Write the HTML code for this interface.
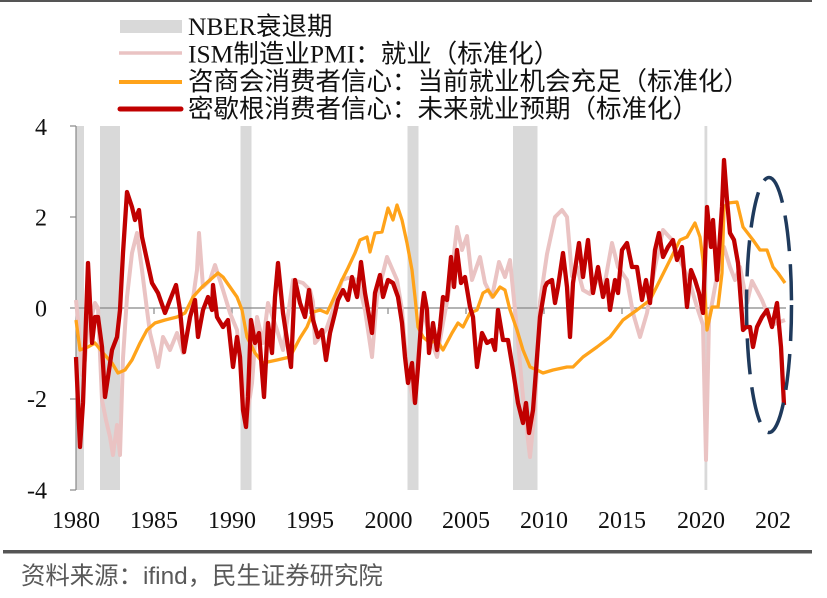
<!DOCTYPE html>
<html><head><meta charset="utf-8"><style>
html,body{margin:0;padding:0;background:#fff;}
svg{display:block;}
</style></head><body>
<svg width="827" height="598" viewBox="0 0 827 598" xmlns="http://www.w3.org/2000/svg">
<rect x="0" y="0" width="827" height="598" fill="#fff"/>
<!-- top border -->
<rect x="0" y="0" width="812" height="2" fill="#555"/>
<!-- legend -->
<rect x="120" y="20" width="62" height="13" fill="#d9d9d9"/>
<line x1="119" y1="53" x2="182" y2="53" stroke="#eac3c3" stroke-width="3.5"/>
<line x1="119" y1="82" x2="182" y2="82" stroke="#ffa31a" stroke-width="4"/>
<line x1="120" y1="109" x2="181" y2="109" stroke="#c00000" stroke-width="5" stroke-linecap="round"/>
<g font-family="'Liberation Serif','Noto Sans CJK SC',serif" font-size="25.5" fill="#111">
<text x="188" y="35">NBER衰退期</text>
<text x="188" y="62.5">ISM制造业PMI：就业（标准化）</text>
<text x="188" y="90">咨商会消费者信心：当前就业机会充足（标准化）</text>
<text x="188" y="117.5">密歇根消费者信心：未来就业预期（标准化）</text>
</g>
<!-- recession bars -->
<g fill="#d9d9d9">
<rect x="76" y="126" width="8" height="364"/>
<rect x="100" y="126" width="20" height="364"/>
<rect x="240.5" y="126" width="11" height="364"/>
<rect x="407.5" y="126" width="11" height="364"/>
<rect x="513" y="126" width="24.5" height="364"/>
<rect x="704.5" y="126" width="2.8" height="364"/>
</g>
<!-- axes -->
<g stroke="#888" stroke-width="1.2">
<line x1="76" y1="126" x2="76" y2="490"/>
<line x1="70" y1="126" x2="76" y2="126"/>
<line x1="70" y1="217" x2="76" y2="217"/>
<line x1="70" y1="308" x2="76" y2="308"/>
<line x1="70" y1="399" x2="76" y2="399"/>
<line x1="70" y1="490" x2="76" y2="490"/>
<line x1="76" y1="308" x2="786" y2="308"/>
<line x1="154" y1="308" x2="154" y2="314"/>
<line x1="232" y1="308" x2="232" y2="314"/>
<line x1="310" y1="308" x2="310" y2="314"/>
<line x1="388" y1="308" x2="388" y2="314"/>
<line x1="466" y1="308" x2="466" y2="314"/>
<line x1="544" y1="308" x2="544" y2="314"/>
<line x1="622" y1="308" x2="622" y2="314"/>
<line x1="700" y1="308" x2="700" y2="314"/>
<line x1="778" y1="308" x2="778" y2="314"/>
</g>
<!-- ISM pink -->
<polyline fill="none" stroke="#eac3c3" stroke-width="4" stroke-linejoin="round" points="76,300 79,330 82,375 85,360 88,320 92,315 95,303 98,308 102,400 106,420 110,437 113,455 117,425 120,455 123,358 127,297 132,253 137,233 142,270 147,310 150,333 155,353 158,367 163,337 170,350 177,333 183,353 190,320 197,270 199,233 203,287 210,280 215,265 223,290 230,313 237,330 243,387 247,417 252,383 257,317 263,343 268,303 277,330 283,350 293,280 303,283 310,290 313,302 315,343 326,330 333,310 342,280 348,278 358,280 365,310 372,357 377,297 387,257 397,280 402,310 407,370 413,400 418,357 423,310 430,337 437,357 443,323 451,280 457,227 462,250 467,236 472,280 480,257 485,283 492,297 499,262 505,277 510,260 517,330 523,397 530,457 535,407 540,302 547,254 555,217 562,210 567,217 572,276 577,267 583,290 590,294 597,276 603,293 612,243 618,267 627,280 633,313 640,337 647,313 655,267 663,230 672,240 680,260 689,280 697,307 703,325 706,460 709,320 717,276 724,247 730,267 735,280 740,267 747,303 752,281 762,300 772,325 785,320"/>
<!-- Conference Board orange -->
<polyline fill="none" stroke="#ffa31a" stroke-width="3.3" stroke-linejoin="round" points="76,320 80,350 88,347 95,343 103,353 112,363 118,373 125,370 132,360 140,343 147,330 155,323 165,320 177,317 185,313 193,297 202,287 210,280 218,273 223,277 230,287 237,297 242,310 247,337 255,353 263,363 277,360 290,357 300,338 307,327 313,312 320,310 327,313 333,300 342,280 348,268 355,253 360,240 367,237 370,252 375,233 382,232 388,208 393,220 397,205 402,220 407,243 412,270 415,297 418,327 423,337 430,343 437,340 443,350 452,333 458,323 463,327 470,313 477,310 483,293 488,290 493,297 500,287 505,290 510,310 517,330 523,350 530,367 537,370 543,373 553,370 567,367 573,367 583,357 597,347 610,337 623,320 637,310 650,300 660,280 670,260 680,240 687,237 695,223 700,237 703,260 707,330 712,307 718,307 722,273 724,207 728,203 737,202 743,227 753,240 760,250 767,250 773,267 778,273 785,283"/>
<!-- Michigan red -->
<polyline fill="none" stroke="#c00000" stroke-width="4.3" stroke-linejoin="round" points="76,357 80,447 83,403 88,263 92,343 95,317 98,317 102,347 105,397 108,377 112,350 117,337 120,310 123,253 127,192 132,207 135,220 139,210 142,237 147,260 152,283 158,293 165,313 170,300 176,285 180,310 184,352 190,317 195,300 198,337 203,310 208,297 212,310 213,285 217,317 223,327 228,320 233,367 237,337 240,357 243,410 246,427 248,397 251,320 255,343 259,333 264,397 268,323 272,353 275,297 278,263 283,313 287,340 291,367 295,280 300,303 305,317 309,290 313,320 318,337 322,330 326,360 330,333 335,313 338,300 343,290 348,300 352,277 357,297 361,262 365,293 368,310 372,333 375,293 380,275 383,297 388,280 393,283 398,297 402,323 405,357 408,383 412,363 415,403 418,367 422,310 424,293 427,310 429,353 433,323 437,350 440,327 443,297 447,300 451,257 454,287 457,250 461,283 465,277 470,307 473,317 477,367 482,333 487,343 492,340 495,350 498,310 503,340 508,340 513,370 518,403 523,423 526,403 529,433 533,410 537,357 540,317 545,287 547,283 552,280 555,303 558,287 563,253 567,287 570,337 573,283 579,243 583,277 588,240 593,293 598,267 603,297 607,280 610,310 615,280 618,293 622,250 627,243 632,267 637,267 642,300 646,280 650,303 655,250 659,233 663,257 668,247 673,240 677,260 682,247 687,307 691,270 695,280 699,293 703,313 707,207 711,247 713,220 717,280 722,207 724,160 727,200 730,233 734,240 738,263 743,330 746,327 750,327 753,347 757,327 762,317 767,310 772,327 777,303 781,347 784,405"/>
<!-- dashed ellipse -->
<ellipse cx="769" cy="305" rx="22.5" ry="127.5" fill="none" stroke="#1f3a5c" stroke-width="3.5" stroke-dasharray="36 13"/>
<!-- y labels -->
<g font-family="'Liberation Serif',serif" font-size="24" fill="#111" text-anchor="end">
<text x="47" y="135">4</text>
<text x="47" y="225.5">2</text>
<text x="47" y="316.5">0</text>
<text x="47" y="407">-2</text>
<text x="47" y="498.5">-4</text>
</g>
<!-- x labels -->
<g font-family="'Liberation Serif',serif" font-size="24" fill="#111" text-anchor="middle">
<text x="76" y="528">1980</text>
<text x="154" y="528">1985</text>
<text x="232" y="528">1990</text>
<text x="310" y="528">1995</text>
<text x="388.5" y="528">2000</text>
<text x="466" y="528">2005</text>
<text x="544" y="528">2010</text>
<text x="622" y="528">2015</text>
<text x="701" y="528">2020</text>
</g>
<text x="755" y="528" font-family="'Liberation Serif',serif" font-size="24" fill="#111">202</text>
<!-- bottom separator -->
<rect x="3" y="550" width="809" height="3.5" fill="#555"/>
<text x="21" y="584" font-family="'Liberation Sans','Noto Sans CJK SC',sans-serif" font-size="24.4" fill="#595959">资料来源：ifind，民生证券研究院</text>
</svg>
</body></html>
